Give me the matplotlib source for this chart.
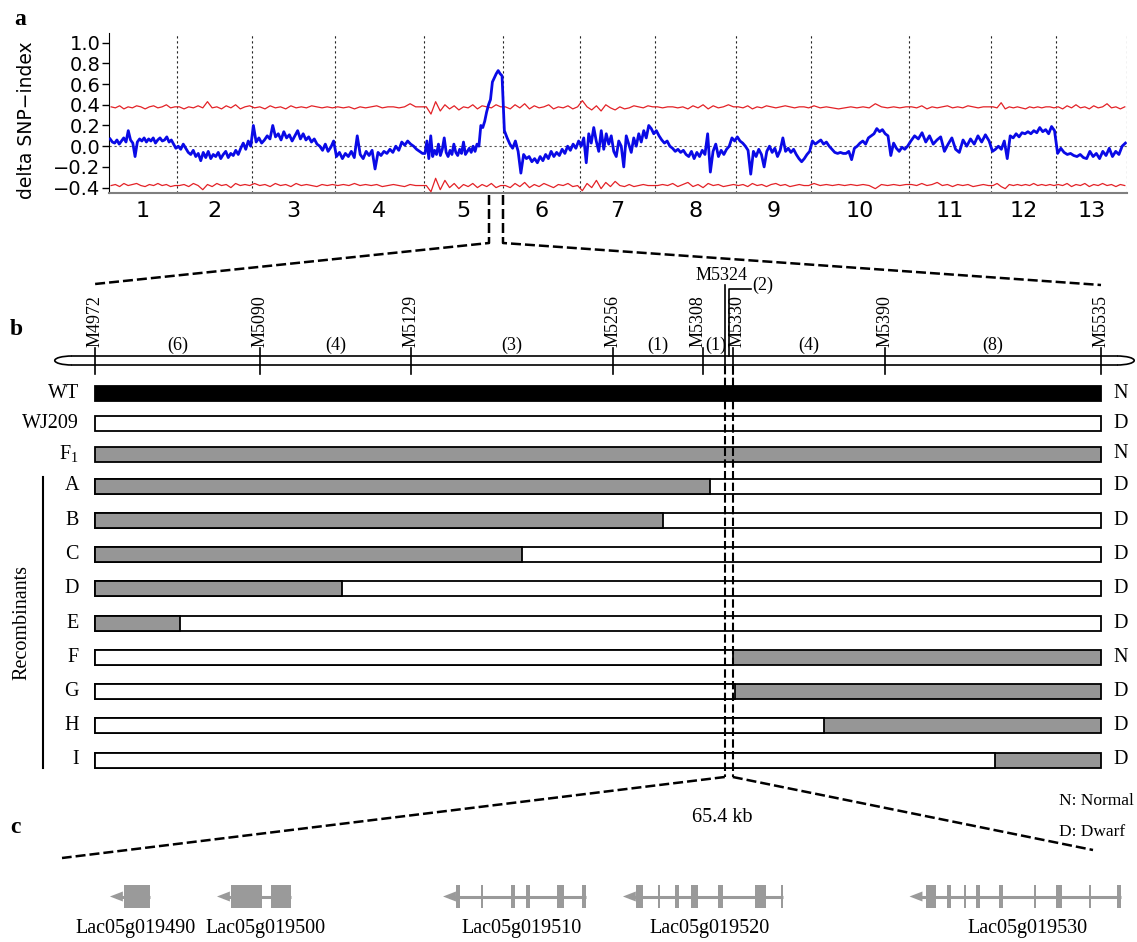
import numpy as np
import matplotlib
matplotlib.use("Agg")
import matplotlib.pyplot as plt
from matplotlib.patches import Rectangle, Arc, Polygon

plt.rcParams.update({
    "font.family": "Liberation Serif",
    "mathtext.fontset": "custom",
    "mathtext.rm": "Liberation Serif",
})

# ---------------------------------------------------------------
# Panel a: delta SNP-index along the 13 chromosomes
# ---------------------------------------------------------------
chrom_names = [str(i) for i in range(1, 14)]
chrom_len = [68, 75, 83, 89, 79, 77, 75, 81, 75, 98, 82, 65, 71]  # Mb

delta_snp = [
    [0.07, 0.04, 0.03, 0.06, 0.02, 0.05, 0.08, 0.04, 0.15, 0.06, 0.03, -0.10, 0.04, 0.07, 0.05,
     0.08, 0.04, 0.07, 0.05, 0.08, 0.03, 0.06, 0.08, 0.05, 0.06, 0.09, 0.04, 0.06, 0.02, -0.02],
    [0.00, -0.03, 0.02, -0.02, -0.06, -0.08, -0.04, -0.10, -0.07, -0.14, -0.06, -0.11, -0.05, -0.12, -0.08,
     -0.10, -0.06, -0.12, -0.08, -0.05, -0.11, -0.07, -0.09, -0.04, -0.08, -0.02, 0.03, -0.03, 0.05, 0.00],
    [0.20, 0.04, 0.08, 0.03, 0.06, 0.10, 0.07, 0.20, 0.09, 0.12, 0.06, 0.14, 0.08, 0.11, 0.05,
     0.10, 0.15, 0.07, 0.12, 0.06, 0.09, 0.04, 0.07, 0.02, 0.00, -0.04, 0.02, -0.05, -0.01, 0.05],
    [-0.10, -0.06, -0.12, -0.07, -0.10, -0.05, -0.11, 0.10, -0.08, -0.12, -0.05, -0.09, -0.04, -0.22, -0.06,
     -0.09, -0.05, -0.07, -0.03, -0.06, 0.00, -0.04, 0.04, 0.01, 0.05, 0.02, 0.00, -0.03, -0.05, -0.07],
    [-0.07, 0.05, -0.12, 0.10, -0.10, -0.04, -0.08, 0.02, -0.09, -0.03, 0.08, -0.06, -0.10, -0.04, -0.08,
     0.02, -0.06, -0.09, -0.03, -0.07, 0.04, -0.08, -0.05, -0.02, -0.06, 0.00, -0.05, 0.02, 0.00, 0.20,
     0.18, 0.24, 0.33, 0.40, 0.45, 0.62, 0.66, 0.70, 0.73, 0.70, 0.68],
    [0.15, 0.08, 0.02, -0.02, 0.05, -0.05, -0.26, -0.08, -0.12, -0.10, -0.15, -0.12, -0.16, -0.10,
     -0.14, -0.08, -0.12, -0.05, -0.10, -0.06, -0.09, -0.03, -0.07, 0.00, -0.04, 0.02, -0.02, 0.05],
    [0.00, 0.08, -0.16, 0.12, 0.03, 0.18, 0.05, -0.05, 0.15, -0.03, 0.12, 0.02, 0.10, -0.05, -0.10,
     0.05, 0.00, -0.20, 0.10, 0.02, -0.06, 0.08, 0.00, 0.12, 0.04, 0.15, 0.08, 0.20, 0.17, 0.12],
    [0.15, 0.10, 0.06, 0.03, 0.05, 0.00, -0.02, -0.05, -0.03, -0.06, -0.04, -0.08, -0.10, -0.05, -0.12,
     -0.06, -0.10, -0.04, -0.08, 0.12, -0.25, -0.05, 0.02, -0.10, -0.04, -0.08, -0.03, 0.00, 0.08, 0.05],
    [0.09, 0.05, 0.03, 0.00, -0.04, -0.27, -0.05, -0.10, -0.03, -0.08, -0.20, -0.05, 0.00, -0.06,
     -0.02, -0.10, -0.04, 0.08, -0.05, -0.02, -0.06, -0.03, -0.08, -0.12, -0.15, -0.12, -0.08, -0.05],
    [0.05, 0.02, 0.04, 0.06, 0.02, 0.04, 0.00, -0.03, -0.06, -0.07, -0.06, -0.07, -0.07, -0.05, -0.13,
     -0.02, 0.00, 0.03, 0.05, 0.02, 0.08, 0.10, 0.12, 0.17, 0.14, 0.16, 0.12, 0.10, -0.09, 0.03,
     -0.02, -0.05, -0.01, -0.03, 0.00],
    [0.05, 0.10, 0.07, 0.13, 0.04, 0.10, 0.02, 0.06, 0.09, -0.05, 0.02, 0.08, -0.03, -0.06, 0.06,
     0.00, 0.07, 0.02, 0.10, 0.04, 0.11, 0.05],
    [-0.05, -0.03, 0.00, -0.03, 0.05, -0.12, 0.10, 0.08, 0.12, 0.09, 0.13, 0.12, 0.14, 0.12, 0.15,
     0.13, 0.18, 0.14, 0.16, 0.12, 0.19, 0.15],
    [-0.07, -0.02, -0.06, -0.08, -0.07, -0.09, -0.10, -0.08, -0.11, -0.12, -0.05, -0.10, -0.07, -0.12,
     -0.05, -0.09, -0.02, -0.10, -0.05, -0.08, 0.00, 0.03],
]

thr_upper = [
    [0.38, 0.37, 0.39, 0.36, 0.38, 0.37, 0.39, 0.38, 0.36, 0.38, 0.39, 0.37, 0.38, 0.40, 0.37, 0.38],
    [0.38, 0.36, 0.38, 0.37, 0.39, 0.37, 0.43, 0.37, 0.38, 0.36, 0.39, 0.37, 0.40, 0.36, 0.38, 0.39],
    [0.37, 0.38, 0.36, 0.39, 0.37, 0.38, 0.36, 0.39, 0.37, 0.38, 0.37, 0.39, 0.38, 0.37, 0.38, 0.37],
    [0.38, 0.37, 0.38, 0.36, 0.38, 0.37, 0.38, 0.39, 0.37, 0.38, 0.38, 0.37, 0.38, 0.41, 0.38, 0.38],
    [0.38, 0.31, 0.43, 0.34, 0.40, 0.36, 0.39, 0.35, 0.38, 0.37, 0.40, 0.36, 0.39, 0.38, 0.37, 0.40, 0.38],
    [0.38, 0.36, 0.40, 0.37, 0.41, 0.36, 0.39, 0.37, 0.38, 0.40, 0.36, 0.38, 0.37, 0.39, 0.36, 0.38],
    [0.44, 0.38, 0.35, 0.39, 0.34, 0.40, 0.37, 0.35, 0.38, 0.36, 0.37, 0.39, 0.38, 0.37, 0.39, 0.38],
    [0.38, 0.37, 0.38, 0.38, 0.37, 0.38, 0.36, 0.39, 0.37, 0.40, 0.36, 0.39, 0.37, 0.38, 0.40, 0.38],
    [0.38, 0.37, 0.39, 0.36, 0.38, 0.37, 0.39, 0.38, 0.37, 0.38, 0.39, 0.38, 0.37, 0.38, 0.38, 0.37],
    [0.39, 0.37, 0.38, 0.37, 0.36, 0.37, 0.38, 0.37, 0.38, 0.37, 0.41, 0.38, 0.37, 0.38, 0.37, 0.38],
    [0.38, 0.37, 0.39, 0.36, 0.38, 0.37, 0.38, 0.39, 0.37, 0.38, 0.37, 0.39, 0.38, 0.37, 0.38, 0.38],
    [0.38, 0.37, 0.42, 0.36, 0.38, 0.37, 0.38, 0.37, 0.36, 0.38, 0.37, 0.38, 0.37, 0.38, 0.38, 0.37],
    [0.38, 0.36, 0.39, 0.37, 0.40, 0.37, 0.38, 0.36, 0.39, 0.37, 0.38, 0.41, 0.37, 0.38, 0.36, 0.38],
]

thr_lower = [
    [-0.38, -0.37, -0.39, -0.36, -0.38, -0.37, -0.36, -0.38, -0.39, -0.37, -0.38, -0.36, -0.38, -0.37, -0.39, -0.38],
    [-0.38, -0.37, -0.39, -0.36, -0.38, -0.42, -0.37, -0.39, -0.36, -0.38, -0.37, -0.40, -0.36, -0.38, -0.37, -0.38],
    [-0.36, -0.38, -0.37, -0.39, -0.36, -0.38, -0.37, -0.39, -0.36, -0.38, -0.37, -0.38, -0.39, -0.37, -0.38, -0.37],
    [-0.38, -0.37, -0.38, -0.36, -0.38, -0.37, -0.38, -0.37, -0.39, -0.38, -0.37, -0.38, -0.39, -0.37, -0.38, -0.38],
    [-0.38, -0.44, -0.31, -0.42, -0.33, -0.40, -0.36, -0.41, -0.37, -0.39, -0.36, -0.40, -0.37, -0.39, -0.36, -0.40, -0.38],
    [-0.38, -0.40, -0.36, -0.39, -0.35, -0.40, -0.37, -0.39, -0.36, -0.38, -0.40, -0.37, -0.38, -0.36, -0.39, -0.38],
    [-0.43, -0.36, -0.40, -0.33, -0.41, -0.35, -0.39, -0.34, -0.38, -0.39, -0.37, -0.39, -0.38, -0.37, -0.38, -0.38],
    [-0.38, -0.37, -0.38, -0.36, -0.39, -0.37, -0.35, -0.39, -0.37, -0.40, -0.36, -0.38, -0.37, -0.39, -0.38, -0.37],
    [-0.38, -0.37, -0.39, -0.36, -0.38, -0.37, -0.39, -0.37, -0.36, -0.38, -0.37, -0.39, -0.38, -0.37, -0.38, -0.38],
    [-0.36, -0.38, -0.37, -0.38, -0.37, -0.38, -0.37, -0.38, -0.37, -0.38, -0.41, -0.37, -0.38, -0.37, -0.38, -0.37],
    [-0.37, -0.38, -0.36, -0.38, -0.37, -0.35, -0.38, -0.37, -0.39, -0.37, -0.38, -0.37, -0.39, -0.38, -0.37, -0.38],
    [-0.38, -0.36, -0.39, -0.41, -0.37, -0.38, -0.37, -0.38, -0.37, -0.38, -0.36, -0.38, -0.37, -0.38, -0.37, -0.38],
    [-0.37, -0.38, -0.36, -0.39, -0.37, -0.38, -0.36, -0.39, -0.37, -0.38, -0.36, -0.38, -0.37, -0.39, -0.37, -0.38],
]

yticks_a = [-0.4, -0.2, 0.0, 0.2, 0.4, 0.6, 0.8, 1.0]
peak_chrom = 5
peak_interval = (65.0, 79.0)  # Mb on chr5

# ---------------------------------------------------------------
# Panel b: fine mapping
# ---------------------------------------------------------------
markers = ["M4972", "M5090", "M5129", "M5256", "M5308", "M5324", "M5330", "M5390", "M5535"]
marker_pos = [0, 16.4, 31.4, 51.5, 60.4, 62.6, 63.4, 78.5, 100]   # schematic map position
recomb_counts = ["(6)", "(4)", "(3)", "(1)", "(1)", "(2)", "(4)", "(8)"]

line_names = ["WT", "WJ209", r"F$_{1}$", "A", "B", "C", "D", "E", "F", "G", "H", "I"]
geno_left = ["wt", "mut", "het", "het", "het", "het", "het", "het", "mut", "mut", "mut", "mut"]
geno_right = ["wt", "mut", "het", "mut", "mut", "mut", "mut", "mut", "het", "het", "het", "het"]
breakpoints = [None, None, None, 61.1, 56.5, 42.4, 24.6, 8.4, 63.4, 63.6, 72.5, 89.5]
phenotype = ["N", "D", "N", "D", "D", "D", "D", "D", "N", "D", "D", "D"]

# ---------------------------------------------------------------
# Panel c: genes in the 65.4 kb candidate region
# ---------------------------------------------------------------
region_kb = 65.4
gene_ids = ["Lac05g019490", "Lac05g019500", "Lac05g019510", "Lac05g019520", "Lac05g019530"]
gene_tip = [3.04, 9.83, 24.17, 35.58, 53.76]
gene_exons = [
    [(3.93, 5.58)],
    [(10.72, 12.69), (13.26, 14.53)],
    [(24.99, 25.24), (26.61, 26.71), (28.48, 28.73), (29.43, 29.69), (31.40, 31.84), (32.98, 33.24)],
    [(36.41, 36.85), (37.80, 37.91), (38.88, 39.13), (39.89, 40.34), (41.61, 41.93), (43.96, 44.66),
     (45.62, 45.72)],
    [(54.80, 55.44), (56.13, 56.39), (57.23, 57.33), (57.97, 58.23), (59.43, 59.68), (61.67, 61.77),
     (63.05, 63.43), (65.16, 65.26), (66.92, 67.17)],
]
gene_label_x = [4.69, 12.88, 29.18, 41.10, 61.27]

# ---------------------------------------------------------------
W, H = 1137, 942
BLUE = "#0a0ae6"
RED = "#e32227"
GRAY = "#969696"
GENE_GRAY = "#9a9a9a"
geno_color = {"wt": "black", "mut": "white", "het": GRAY}
DASH = (0, (4, 1.6))

fig = plt.figure(figsize=(W / 100, H / 100), dpi=100)

# ---- panel a
ax_a = fig.add_axes([109 / W, 1 - 193 / H, 1018 / W, 160 / H])
starts = np.concatenate([[0], np.cumsum(chrom_len)[:-1]])
ends = np.cumsum(chrom_len)


def along_genome(per_chrom):
    xs, ys = [], []
    for s, L, vals in zip(starts, chrom_len, per_chrom):
        n = len(vals)
        xs.extend(s + (np.arange(n) + 0.5) * L / n)
        ys.extend(vals)
    return np.array(xs), np.array(ys)


for series, col, lw in [(thr_upper, RED, 0.9), (thr_lower, RED, 0.9), (delta_snp, BLUE, 2.0)]:
    x, y = along_genome(series)
    ax_a.plot(x, y, color=col, lw=lw, zorder=3)

for b in ends:
    ax_a.axvline(b, color="#222222", lw=0.8, ls=(0, (2, 2.5)), zorder=1)
ax_a.axhline(0, color="#555555", lw=0.8, ls=(0, (2, 2.5)), zorder=1)

ax_a.set_xlim(0, ends[-1])
ax_a.set_ylim(-0.452, 1.093)
ax_a.set_yticks(yticks_a, [f"{v:.1f}".replace("-", "\u2212") for v in yticks_a],
                fontfamily="DejaVu Sans", fontsize=14)
ax_a.set_xticks(starts + np.array(chrom_len) / 2, chrom_names, fontfamily="DejaVu Sans", fontsize=16)
ax_a.tick_params(axis="y", length=5, width=1, pad=1)
ax_a.tick_params(axis="x", length=0, pad=6)
for side in ["top", "right"]:
    ax_a.spines[side].set_visible(False)
ax_a.spines["bottom"].set_color("#7f7f7f")
ax_a.spines["bottom"].set_linewidth(1.5)
ax_a.patch.set_visible(False)

fig.text(27 / W, 1 - 120 / H, "delta SNP\u2212index", rotation=90, ha="center", va="center",
         fontfamily="DejaVu Sans", fontsize=13.5)

# panel letters
for letter, (lx, ly) in zip("abc", [(14, 25), (10, 335), (10, 833)]):
    fig.text(lx / W, 1 - ly / H, letter, fontsize=17, fontweight="bold", ha="left", va="baseline")

# ---- panel b (x: schematic map units, y: pixel rows)
B_X0, B_X1 = 95, 1101
u = 100 / (B_X1 - B_X0)
ax_b = fig.add_axes([0, 0, 1, 1], zorder=1)
ax_b.set_xlim(-B_X0 * u, (W - B_X0) * u)
ax_b.set_ylim(H, 0)
ax_b.axis("off")

bar_top, bar_bot = 356, 365
cap = 1.7
left_tip, right_tip = -4.0, 103.3
for yy in (bar_top, bar_bot):
    ax_b.plot([left_tip + cap, right_tip - cap], [yy, yy], color="k", lw=1.2)
ax_b.add_patch(Arc((left_tip + cap, (bar_top + bar_bot) / 2), 2 * cap, bar_bot - bar_top,
                   theta1=90, theta2=270, lw=1.2, color="k"))
ax_b.add_patch(Arc((right_tip - cap, (bar_top + bar_bot) / 2), 2 * cap, bar_bot - bar_top,
                   theta1=-90, theta2=90, lw=1.2, color="k"))

# small label nudges where markers sit close together
label_shift = {"M5308": -0.45, "M5330": 0.45}
for name, pos in zip(markers, marker_pos):
    if name == "M5324":
        ax_b.plot([pos, pos], [285, bar_bot], color="k", lw=1.2)
        ax_b.text(pos - 0.3, 276, name, ha="center", va="center", fontsize=13)
    else:
        ax_b.plot([pos, pos], [348, 374], color="k", lw=1.2)
        ax_b.text(pos + label_shift.get(name, 0), 347, name, rotation=90, ha="center", va="bottom",
                  fontsize=13)

for i, lab in enumerate(recomb_counts):
    mid = (marker_pos[i] + marker_pos[i + 1]) / 2
    if lab == "(2)":
        ax_b.plot([mid, mid, mid + 2.2], [bar_top, 289, 289], color="k", lw=1.2)
        ax_b.text(mid + 2.3, 285, lab, ha="left", va="center", fontsize=13)
    elif i == 4:
        ax_b.text(mid + 0.25, 345, lab, ha="center", va="center", fontsize=13)
    else:
        ax_b.text(mid, 345, lab, ha="center", va="center", fontsize=13)

row_y = [393, 423, 454] + [486 + 34.25 * k for k in range(9)]
bar_h = 15
for i, name in enumerate(line_names):
    y = row_y[i]
    ax_b.add_patch(Rectangle((0, y - bar_h / 2), 100, bar_h, facecolor=geno_color[geno_right[i]],
                             edgecolor="k", lw=1.3))
    bp = breakpoints[i]
    if bp is not None:
        ax_b.add_patch(Rectangle((0, y - bar_h / 2), bp, bar_h, facecolor=geno_color[geno_left[i]],
                                 edgecolor="k", lw=1.3))
    ax_b.text(-1.6, y, name, ha="right", va="center", fontsize=14.5)
    ax_b.text(101.2, y, phenotype[i], ha="left", va="center", fontsize=14.5)

ax_b.plot([-5.17, -5.17], [477, 768], color="k", lw=1.5)
ax_b.text(-7.3, 622, "Recombinants", rotation=90, ha="center", va="center", fontsize=14.5)

ax_b.text(95.8, 801, "N: Normal", ha="left", va="center", fontsize=12.5)
ax_b.text(95.8, 832, "D: Dwarf", ha="left", va="center", fontsize=12.5)
ax_b.text(62.4, 817, f"{region_kb} kb", ha="center", va="center", fontsize=14.5)

# ---- panel c (x: kb, y: pixel rows)
C_X0, C_X1 = 62, 1093
kb = region_kb / (C_X1 - C_X0)
ax_c = fig.add_axes([0, 0, 1, 1], zorder=1)
ax_c.set_xlim(-C_X0 * kb, (W - C_X0) * kb)
ax_c.set_ylim(H, 0)
ax_c.axis("off")

gy = 896.5
for gid, tip, exons, lx in zip(gene_ids, gene_tip, gene_exons, gene_label_x):
    right = max(e[1] for e in exons)
    head = 0.82
    ax_c.plot([tip + head * 0.5, right], [gy, gy], color=GENE_GRAY, lw=2.2, solid_capstyle="butt")
    ax_c.add_patch(Polygon([[tip, gy], [tip + head, gy - 5], [tip + head, gy + 5]], closed=True,
                           facecolor=GENE_GRAY, edgecolor="none"))
    for s, e in exons:
        ax_c.add_patch(Rectangle((s, gy - 11.5), e - s, 23, facecolor=GENE_GRAY, edgecolor="none"))
    ax_c.text(lx, 929, gid, ha="center", va="center", fontsize=14.5)

# ---- dashed connectors (pixel overlay)
ov = fig.add_axes([0, 0, 1, 1], zorder=3)
ov.set_xlim(0, W)
ov.set_ylim(H, 0)
ov.axis("off")


def px(ax, x, y):
    X, Y = ax.transData.transform((x, y))
    return X, H - Y


cs = starts[peak_chrom - 1]
for g, m in zip(peak_interval, [marker_pos[0], marker_pos[-1]]):
    x0, y0 = px(ax_a, cs + g, -0.452)
    x1, _ = px(ax_b, m, 0)
    y_end = 284 if m == marker_pos[0] else 285
    ov.plot([x0, x0, x1], [y0 + 2, 243, y_end], color="k", lw=1.8, ls=DASH)

for m, k, y_end in [(marker_pos[5], 0, 858), (marker_pos[6], region_kb, 850)]:
    x0, _ = px(ax_b, m, 0)
    x1, _ = px(ax_c, k, 0)
    ov.plot([x0, x0], [bar_bot + 1, 777], color="k", lw=1.5, ls=DASH)
    ov.plot([x0, x1], [777, y_end], color="k", lw=1.8, ls=DASH)

fig.savefig("out.png", dpi=100)
